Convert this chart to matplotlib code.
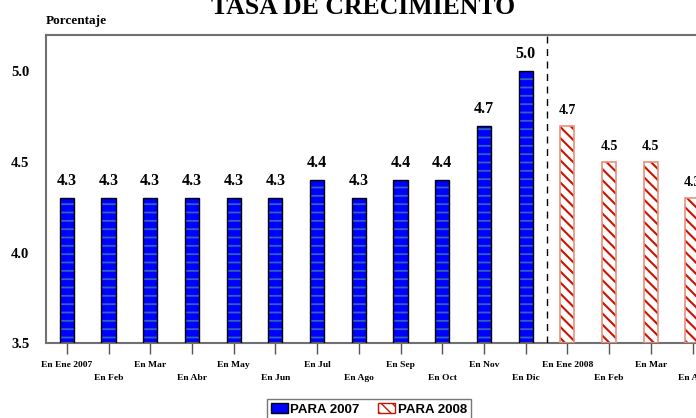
import matplotlib
matplotlib.use("Agg")
import matplotlib.pyplot as plt
import matplotlib.patches as mpatches

# Data
meses_2007 = ["En Ene 2007", "En Feb", "En Mar", "En Abr", "En May", "En Jun",
              "En Jul", "En Ago", "En Sep", "En Oct", "En Nov", "En Dic"]
meses_2008 = ["En Ene 2008", "En Feb", "En Mar", "En Abr"]
valores_2007 = [4.3, 4.3, 4.3, 4.3, 4.3, 4.3, 4.4, 4.3, 4.4, 4.4, 4.7, 5.0]
valores_2008 = [4.7, 4.5, 4.5, 4.3]
y_ticks = [3.5, 4.0, 4.5, 5.0]

serif = "Liberation Serif"
sans = "Liberation Sans"

fig = plt.figure(figsize=(6.96, 4.18), dpi=100)
ax = fig.add_axes([0.066, 0.179, 0.95, 0.737])

x07 = list(range(len(valores_2007)))
x08 = [len(valores_2007) + i for i in range(len(valores_2008))]
w = 0.34

# 2007 bars: blue with darker horizontal stripes, black outline
with plt.rc_context({"hatch.linewidth": 1.3}):
    ax.bar(x07, [v - 3.5 for v in valores_2007], w, bottom=3.5, color="#0000ff",
           edgecolor="#2f62bd", linewidth=0, hatch="--", zorder=2)
ax.bar(x07, [v - 3.5 for v in valores_2007], w, bottom=3.5, fill=False,
       edgecolor="black", linewidth=1.0, zorder=3)

# 2008 bars: white with red diagonal hatch, salmon outline
with plt.rc_context({"hatch.linewidth": 1.5}):
    ax.bar(x08, [v - 3.5 for v in valores_2008], w, bottom=3.5, color="white",
           edgecolor="#c81400", linewidth=0, hatch="\\\\\\", zorder=2)
ax.bar(x08, [v - 3.5 for v in valores_2008], w, bottom=3.5, fill=False,
       edgecolor="#e8907e", linewidth=1.2, zorder=3)

# value labels
for xi, v in zip(x07 + x08, valores_2007 + valores_2008):
    ax.text(xi, v + 0.05, f"{v:.1f}", ha="center", va="bottom",
            fontsize=11.5 if xi < 12 else 10, fontweight="bold", family=serif)

# separator between years
ax.axvline(11.5, color="black", linestyle=(0, (5, 4)), linewidth=1, zorder=4)

ax.set_xlim(-0.5, 15.35)
ax.set_ylim(3.5, 5.2)

labels = meses_2007 + meses_2008
labels = [l if i % 2 == 0 else "\n" + l for i, l in enumerate(labels)]
ax.set_xticks(x07 + x08)
ax.set_xticklabels(labels, fontsize=6.8, fontweight="bold", family=serif,
                   linespacing=1.75)
ax.tick_params(axis="x", direction="out", length=8, width=1, color="#555555", pad=5)

ax.set_yticks(y_ticks)
ax.set_yticklabels([f"{t:.1f}" for t in y_ticks], fontsize=10.5,
                   fontweight="bold", family=serif)
ax.tick_params(axis="y", length=0, pad=12)

for s in ["left", "bottom", "top", "right"]:
    ax.spines[s].set_color("#707070")
    ax.spines[s].set_linewidth(1.5)

fig.text(0.522, 0.955, "TASA DE CRECIMIENTO", ha="center", va="bottom",
         fontsize=18.5, fontweight="bold", family=serif)
fig.text(0.066, 0.935, "Porcentaje", ha="left", va="bottom",
         fontsize=9.5, fontweight="bold", family=serif)

h07 = mpatches.Patch(facecolor="#0000ff", edgecolor="black", label="PARA 2007")
h08 = mpatches.Patch(facecolor="white", edgecolor="#c81400", hatch="\\\\\\",
                     label="PARA 2008")
leg = fig.legend(handles=[h07, h08], loc="lower center", ncol=2,
                 bbox_to_anchor=(0.53, -0.02), frameon=True, fancybox=False,
                 prop={"family": sans, "weight": "bold", "size": 9.5},
                 handlelength=1.3, handleheight=0.8, handletextpad=0.2,
                 columnspacing=1.4, borderpad=0.3)
leg.get_frame().set_edgecolor("#555555")
leg.get_frame().set_linewidth(1.0)

fig.savefig("out.png", dpi=100)
